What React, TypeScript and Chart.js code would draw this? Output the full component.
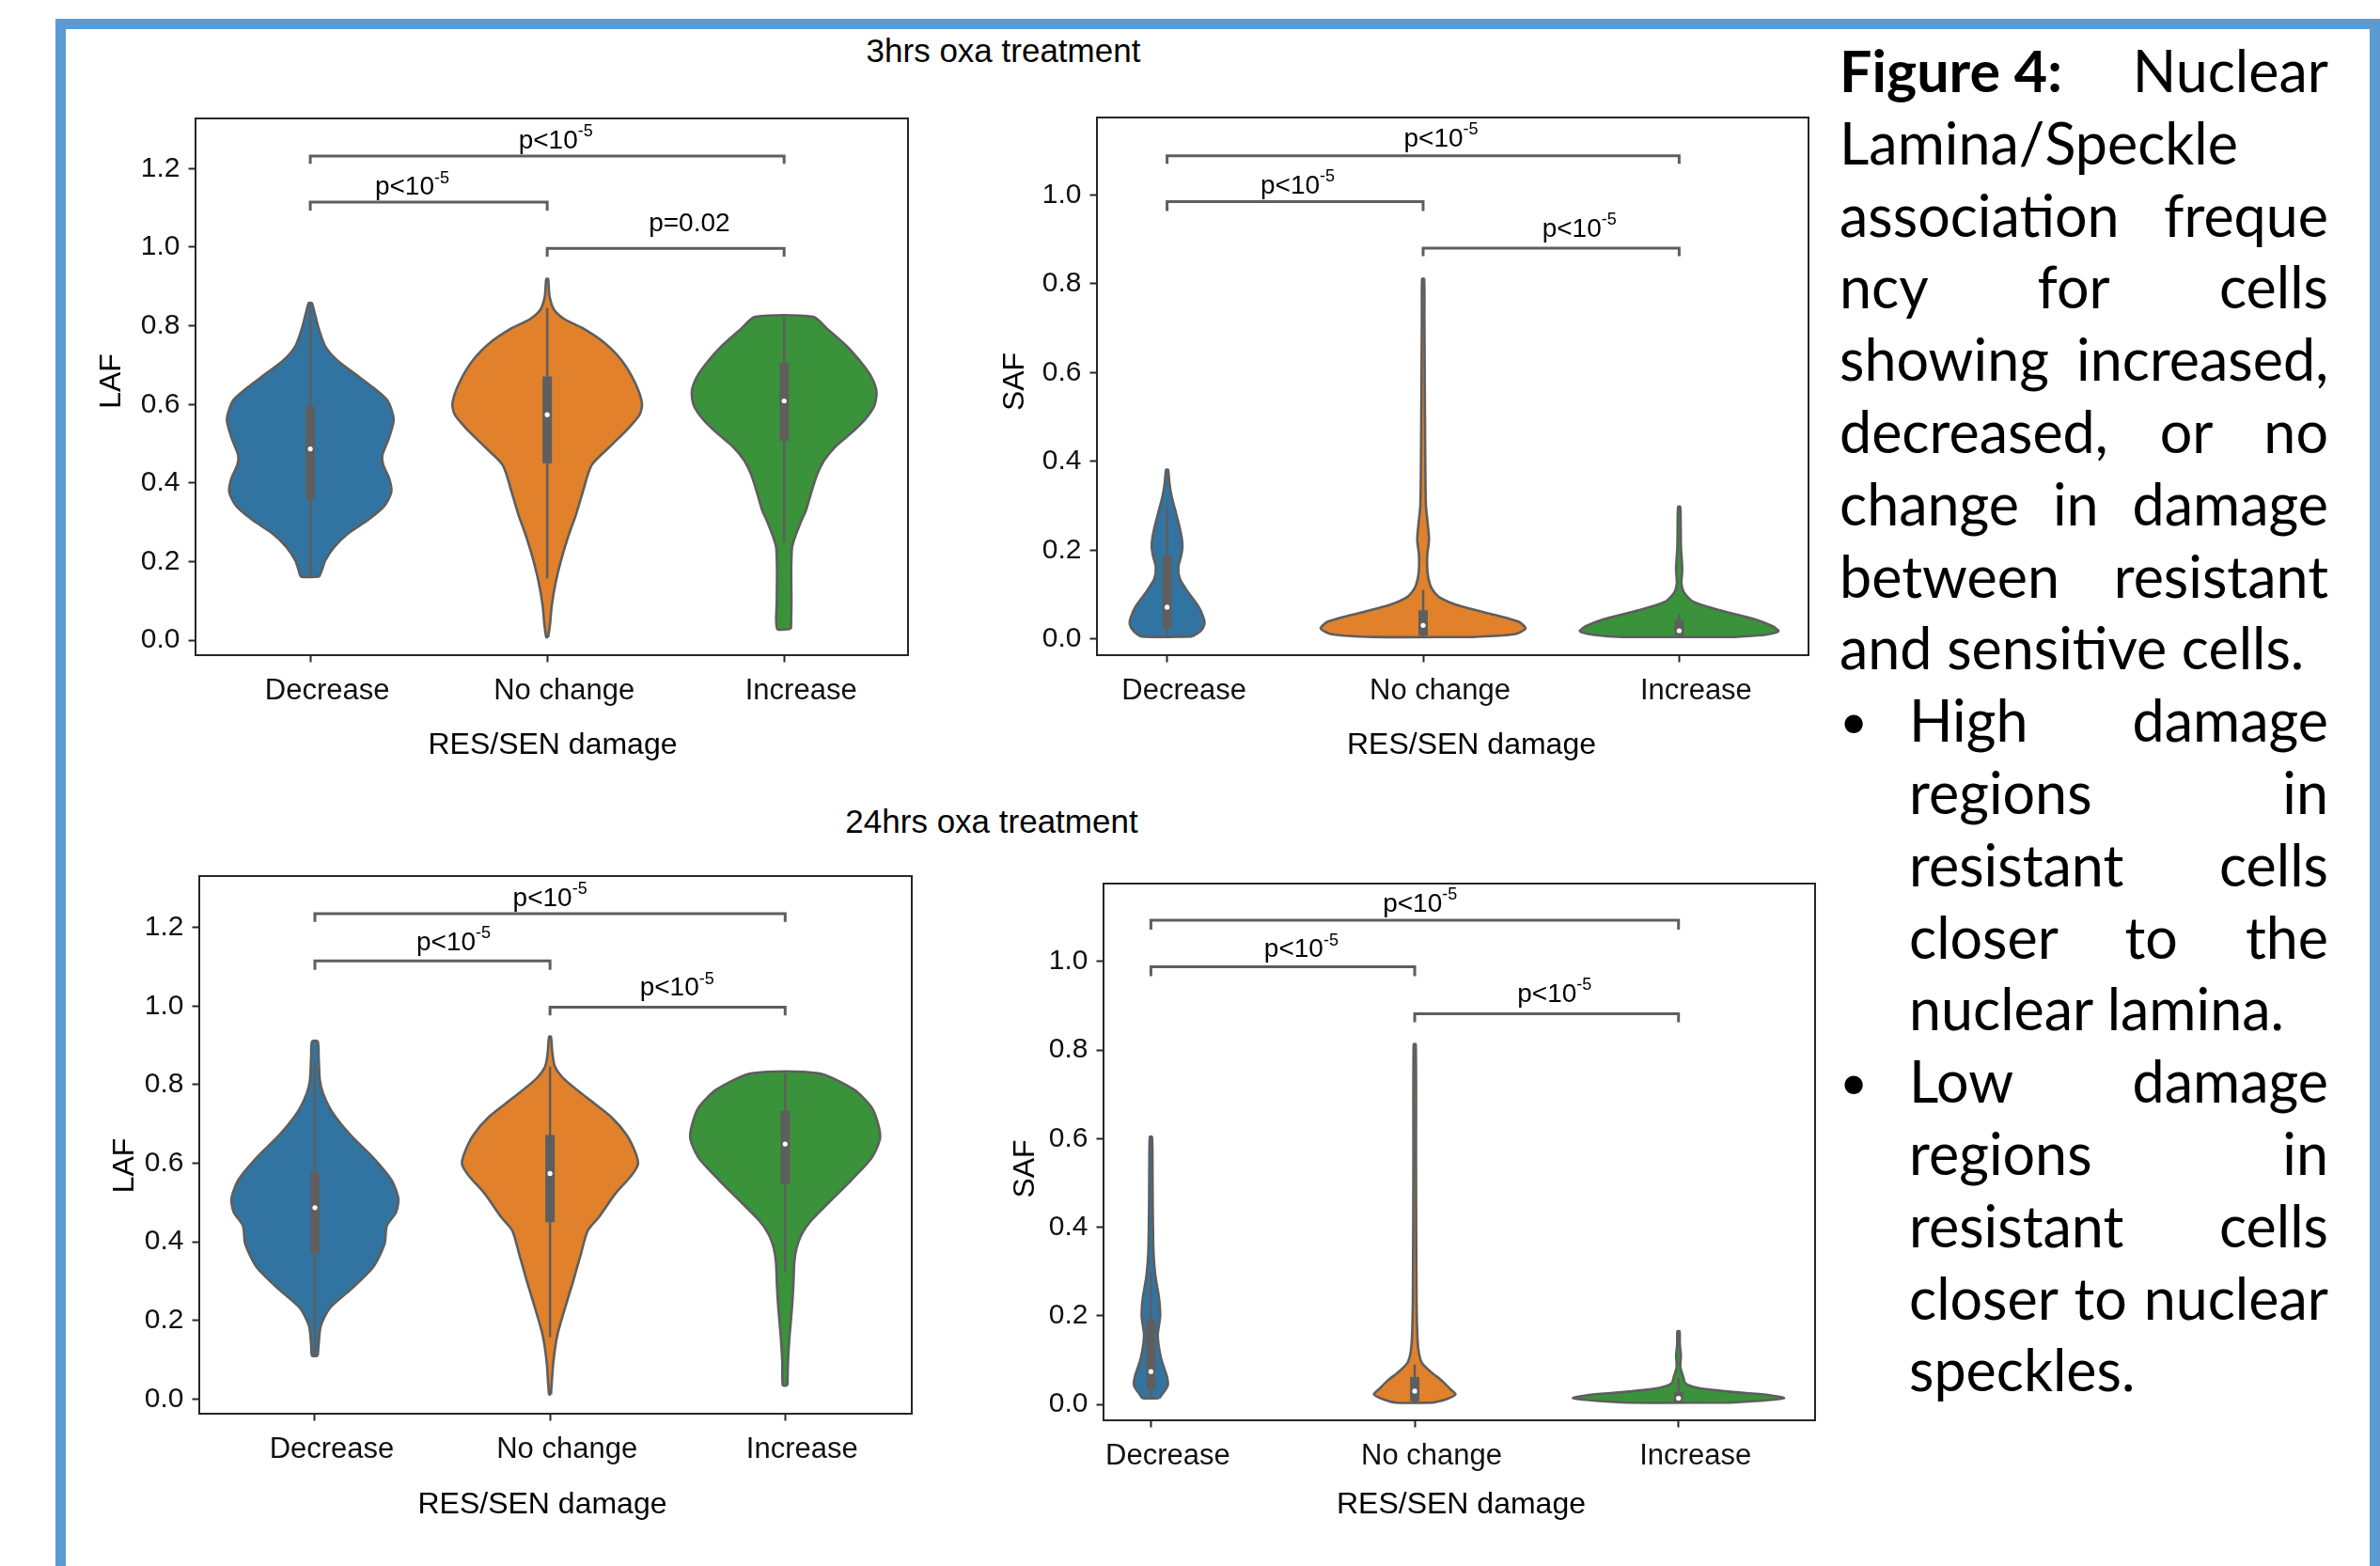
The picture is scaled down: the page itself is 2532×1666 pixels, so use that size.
import React, { useEffect, useRef } from 'react';
import { Chart, registerables } from 'chart.js';

Chart.register(...registerables);
Chart.defaults.font.family = '"Liberation Sans", Arial, Helvetica, sans-serif';

// ---------------- data ----------------
const categories = ['Decrease', 'No change', 'Increase'];
const lafTicks = [0, 0.2, 0.4, 0.6, 0.8, 1.0, 1.2];
const safTicks = [0, 0.2, 0.4, 0.6, 0.8, 1.0];
const violinColors = ['#3274a1', '#e1812c', '#3a923a'];

// violin profiles: [value, half-width (category units)]
// 3hrs LAF
const laf3hDecrease = [[0.162,0.038],[0.18,0.05],[0.203,0.063],[0.238,0.102],[0.272,0.16],[0.307,0.246],[0.342,0.313],[0.377,0.342],[0.412,0.333],[0.446,0.308],[0.47,0.304],[0.516,0.333],[0.562,0.352],[0.609,0.327],[0.643,0.265],[0.678,0.188],[0.713,0.112],[0.748,0.063],[0.794,0.035],[0.841,0.015],[0.858,0.006]];
const laf3hNoChange = [[0.008,0.004],[0.041,0.012],[0.087,0.019],[0.145,0.035],[0.203,0.058],[0.261,0.087],[0.319,0.121],[0.377,0.15],[0.446,0.188],[0.493,0.265],[0.539,0.342],[0.574,0.39],[0.603,0.4],[0.655,0.371],[0.713,0.313],[0.759,0.237],[0.794,0.15],[0.817,0.073],[0.841,0.029],[0.875,0.01],[0.919,0.004]];
const laf3hIncrease = [[0.029,0.029],[0.099,0.031],[0.168,0.03],[0.21,0.031],[0.238,0.034],[0.261,0.045],[0.285,0.06],[0.307,0.075],[0.33,0.092],[0.377,0.115],[0.423,0.14],[0.458,0.169],[0.493,0.217],[0.528,0.285],[0.562,0.342],[0.597,0.381],[0.632,0.39],[0.667,0.371],[0.701,0.333],[0.748,0.265],[0.794,0.179],[0.823,0.123]];
// [whisker low, q1, median, q3, whisker high]
const laf3hBoxes = [[0.162,0.359,0.487,0.595,0.85],[0.157,0.45,0.574,0.671,0.846],[0.249,0.507,0.609,0.706,0.823]];
// [from, to, bar level, tick end]
const laf3hBrackets = [[0,2,1.232,1.212],[0,1,1.115,1.093],[1,2,0.997,0.976]];
// [text, superscript, x centre, baseline]
const laf3hPLabels = [['p<10','-5',1.036,1.252],['p<10','-5',0.43,1.133],['p=0.02','',1.6,1.04]];

// 3hrs SAF
const saf3hDecrease = [[0.006,0.098],[0.018,0.13],[0.034,0.146],[0.049,0.142],[0.075,0.121],[0.106,0.082],[0.136,0.05],[0.162,0.044],[0.188,0.055],[0.208,0.06],[0.229,0.057],[0.259,0.046],[0.29,0.032],[0.321,0.018],[0.352,0.009],[0.381,0.004]];
const saf3hNoChange = [[0.005,0.196],[0.011,0.356],[0.024,0.4],[0.039,0.374],[0.054,0.285],[0.075,0.142],[0.095,0.062],[0.116,0.032],[0.147,0.018],[0.188,0.016],[0.224,0.023],[0.259,0.018],[0.3,0.011],[0.362,0.009],[0.516,0.007],[0.721,0.005],[0.811,0.004]];
const saf3hIncrease = [[0.005,0.22],[0.01,0.338],[0.018,0.388],[0.029,0.365],[0.044,0.3],[0.065,0.16],[0.085,0.053],[0.106,0.018],[0.126,0.009],[0.157,0.012],[0.208,0.007],[0.259,0.006],[0.298,0.004]];
const saf3hBoxes = [[0.006,0.026,0.072,0.188,0.3],[0.005,0.008,0.031,0.065,0.111],[0.005,0.008,0.019,0.042,0.056]];
const saf3hBrackets = [[0,2,1.088,1.07],[0,1,0.985,0.964],[1,2,0.88,0.862]];
const saf3hPLabels = [['p<10','-5',1.07,1.109],['p<10','-5',0.51,1.003],['p<10','-5',1.61,0.906]];

// 24hrs LAF
const laf24hDecrease = [[0.11,0.012],[0.139,0.016],[0.186,0.025],[0.232,0.064],[0.278,0.151],[0.336,0.248],[0.394,0.296],[0.441,0.306],[0.475,0.345],[0.51,0.355],[0.557,0.326],[0.614,0.248],[0.672,0.151],[0.73,0.074],[0.777,0.035],[0.812,0.021],[0.87,0.016],[0.91,0.012]];
const laf24hNoChange = [[0.012,0.004],[0.093,0.014],[0.162,0.031],[0.232,0.064],[0.301,0.099],[0.371,0.132],[0.429,0.161],[0.464,0.209],[0.522,0.277],[0.568,0.345],[0.597,0.374],[0.626,0.364],[0.672,0.326],[0.719,0.258],[0.765,0.161],[0.812,0.064],[0.846,0.021],[0.881,0.01],[0.922,0.004]];
const laf24hIncrease = [[0.035,0.01],[0.093,0.012],[0.162,0.019],[0.232,0.029],[0.29,0.035],[0.348,0.039],[0.383,0.048],[0.417,0.068],[0.452,0.107],[0.499,0.184],[0.557,0.281],[0.614,0.368],[0.661,0.403],[0.696,0.397],[0.742,0.368],[0.788,0.291],[0.829,0.141]];
const laf24hBoxes = [[0.11,0.371,0.487,0.576,0.858],[0.157,0.45,0.574,0.672,0.846],[0.325,0.547,0.649,0.733,0.829]];
const laf24hBrackets = [[0,2,1.235,1.214],[0,1,1.115,1.092],[1,2,0.997,0.976]];
const laf24hPLabels = [['p<10','-5',1.0,1.2545],['p<10','-5',0.59,1.142],['p<10','-5',1.54,1.026]];

// 24hrs SAF
const saf24hDecrease = [[0.014,0.031],[0.023,0.043],[0.043,0.064],[0.064,0.06],[0.105,0.038],[0.156,0.026],[0.198,0.035],[0.239,0.031],[0.29,0.017],[0.342,0.01],[0.444,0.007],[0.547,0.006],[0.604,0.004]];
const saf24hNoChange = [[0.004,0.07],[0.012,0.121],[0.023,0.155],[0.033,0.138],[0.053,0.104],[0.074,0.06],[0.095,0.026],[0.136,0.012],[0.239,0.007],[0.547,0.005],[0.813,0.004]];
const saf24hIncrease = [[0.004,0.19],[0.008,0.31],[0.014,0.4],[0.021,0.345],[0.028,0.207],[0.038,0.069],[0.048,0.026],[0.064,0.017],[0.084,0.007],[0.11,0.009],[0.136,0.005],[0.165,0.004]];
const saf24hBoxes = [[0.014,0.035,0.074,0.192,0.3],[0.004,0.007,0.03,0.062,0.09],[0.004,0.004,0.014,0.028,0.06]];
const saf24hBrackets = [[0,2,1.093,1.072],[0,1,0.988,0.967],[1,2,0.882,0.863]];
const saf24hPLabels = [['p<10','-5',1.02,1.113],['p<10','-5',0.57,1.01],['p<10','-5',1.53,0.909]];

const titles = ['3hrs oxa treatment', '24hrs oxa treatment'];
const xTitle = 'RES/SEN damage';

// ---------------- layout ----------------
const EDGE = '#5e5e5e';
const SPINE = '#262626';
const FONT = '"Liberation Sans", Arial, Helvetica, sans-serif';
const YAXIS_W = 140;
const XAXIS_H = 125;
const PAD_TOP = 40;
const PAD_RIGHT = 20;

const panels = [
  { key: 'laf3', area: { l: 208, t: 126, r: 966, b: 697 }, xr: [-0.4844, 2.5229], yr: [-0.0378, 1.3276], yTicks: lafTicks, yTitle: 'LAF',
    violins: [laf3hDecrease, laf3hNoChange, laf3hIncrease], boxes: laf3hBoxes, brackets: laf3hBrackets, pLabels: laf3hPLabels,
    yGap: 80.5, yShift: -6, xShift: 1, xDrop: 105 },
  { key: 'saf3', area: { l: 1167, t: 125, r: 1924, b: 697 }, xr: [-0.2739, 2.5051], yr: [-0.036, 1.1743], yTicks: safTicks, yTitle: 'SAF',
    violins: [saf3hDecrease, saf3hNoChange, saf3hIncrease], boxes: saf3hBoxes, brackets: saf3hBrackets, pLabels: saf3hPLabels,
    yGap: 78, yShift: -5, xShift: 20, xDrop: 105 },
  { key: 'laf24', area: { l: 212, t: 932, r: 970, b: 1504 }, xr: [-0.4917, 2.5385], yr: [-0.0373, 1.3308], yTicks: lafTicks, yTitle: 'LAF',
    violins: [laf24hDecrease, laf24hNoChange, laf24hIncrease], boxes: laf24hBoxes, brackets: laf24hBrackets, pLabels: laf24hPLabels,
    yGap: 70, yShift: 22, xShift: -14, xDrop: 106 },
  { key: 'saf24', area: { l: 1174, t: 940, r: 1931, b: 1511 }, xr: [-0.1796, 2.5177], yr: [-0.0359, 1.1759], yTicks: safTicks, yTitle: 'SAF',
    violins: [saf24hDecrease, saf24hNoChange, saf24hIncrease], boxes: saf24hBoxes, brackets: saf24hBrackets, pLabels: saf24hPLabels,
    yGap: 74, yShift: 18, xShift: 2, xDrop: 99 },
];

function buildDatasets(p: any) {
  const ds: any[] = [];
  p.violins.forEach((prof: number[][], i: number) => {
    const right = prof.map(([v, w]) => ({ x: i + w, y: v }));
    const left = prof.slice().reverse().map(([v, w]) => ({ x: i - w, y: v }));
    ds.push({
      data: [...right, ...left, right[0]],
      borderColor: EDGE, borderWidth: 2.6, backgroundColor: violinColors[i],
      fill: 'shape', tension: 0.25, pointRadius: 0, order: 5,
    });
  });
  p.boxes.forEach(([lo, q1, med, q3, hi]: number[], i: number) => {
    ds.push({ data: [{ x: i, y: lo }, { x: i, y: hi }], borderColor: EDGE, borderWidth: 2.5, pointRadius: 0, fill: false, order: 4 });
    ds.push({ data: [{ x: i, y: q1 }, { x: i, y: q3 }], borderColor: EDGE, borderWidth: 10, borderCapStyle: 'butt', pointRadius: 0, fill: false, order: 3 });
    ds.push({ data: [{ x: i, y: med }], showLine: false, pointRadius: 2.6, pointBackgroundColor: '#ffffff', pointBorderWidth: 0, order: 2 });
  });
  p.brackets.forEach(([a, b, yl, yt]: number[]) => {
    ds.push({
      data: [{ x: a, y: yt }, { x: a, y: yl }, { x: b, y: yl }, { x: b, y: yt }],
      borderColor: EDGE, borderWidth: 3, pointRadius: 0, fill: false, tension: 0, order: 1,
      borderJoinStyle: 'miter',
    });
  });
  return ds;
}

function makePlugin(p: any) {
  return {
    id: 'panelDecor_' + p.key,
    afterDraw(chart: any) {
      const { ctx, chartArea: a, scales } = chart;
      const xs = scales.x, ys = scales.y;
      ctx.save();
      // p-value labels
      ctx.fillStyle = '#000';
      ctx.textAlign = 'left';
      ctx.textBaseline = 'alphabetic';
      p.pLabels.forEach(([main, sup, cx, cy]: any[]) => {
        ctx.font = `28px ${FONT}`;
        const w1 = ctx.measureText(main).width;
        ctx.font = `18px ${FONT}`;
        const w2 = sup ? ctx.measureText(sup).width : 0;
        const px = xs.getPixelForValue(cx) - (w1 + w2) / 2;
        const py = ys.getPixelForValue(cy);
        ctx.font = `28px ${FONT}`;
        ctx.fillText(main, px, py);
        if (sup) {
          ctx.font = `18px ${FONT}`;
          ctx.fillText(sup, px + w1, py - 12.5);
        }
      });
      // frame
      ctx.strokeStyle = SPINE;
      ctx.lineWidth = 2;
      ctx.strokeRect(a.left, a.top, a.right - a.left, a.bottom - a.top);
      // axis titles
      ctx.fillStyle = '#000';
      ctx.font = `32px ${FONT}`;
      ctx.textAlign = 'center';
      ctx.textBaseline = 'alphabetic';
      ctx.fillText(xTitle, (a.left + a.right) / 2 + p.xShift, a.bottom + p.xDrop);
      ctx.translate(a.left - p.yGap, (a.top + a.bottom) / 2 + p.yShift);
      ctx.rotate(-Math.PI / 2);
      ctx.fillText(p.yTitle, 0, 0);
      ctx.restore();
    },
  };
}

function ViolinPanel({ p }: { p: any }) {
  const ref = useRef<HTMLCanvasElement | null>(null);
  const W = p.area.r - p.area.l + YAXIS_W + PAD_RIGHT;
  const H = p.area.b - p.area.t + PAD_TOP + XAXIS_H;
  useEffect(() => {
    if (!ref.current) return;
    const chart = new Chart(ref.current, {
      type: 'line',
      data: { datasets: buildDatasets(p) },
      options: {
        animation: false,
        responsive: false,
        events: [],
        layout: { padding: { top: PAD_TOP, right: PAD_RIGHT, left: 0, bottom: 0 } },
        plugins: { legend: { display: false }, tooltip: { enabled: false } },
        scales: {
          x: {
            type: 'linear', min: p.xr[0], max: p.xr[1], bounds: 'data',
            afterBuildTicks: (s: any) => { s.ticks = categories.map((_, i) => ({ value: i })); },
            afterFit: (s: any) => { s.height = XAXIS_H; },
            ticks: { autoSkip: false, maxRotation: 0, padding: 12, labelOffset: 18, color: '#111',
              font: { size: 31, lineHeight: 1.2 }, callback: (v: any) => categories[v] },
            grid: { display: true, drawOnChartArea: false, drawTicks: true, tickLength: 7.5, tickWidth: 2, tickColor: SPINE },
            border: { display: false },
          },
          y: {
            type: 'linear', min: p.yr[0], max: p.yr[1], bounds: 'data',
            afterBuildTicks: (s: any) => { s.ticks = p.yTicks.map((v: number) => ({ value: v })); },
            afterFit: (s: any) => { s.width = YAXIS_W; },
            ticks: { autoSkip: false, padding: 9, color: '#111', font: { size: 30 },
              callback: (v: any) => Number(v).toFixed(1) },
            grid: { display: true, drawOnChartArea: false, drawTicks: true, tickLength: 7.5, tickWidth: 2, tickColor: SPINE },
            border: { display: false },
          },
        },
      } as any,
      plugins: [makePlugin(p)],
    } as any);
    return () => chart.destroy();
  }, []);
  return (
    <canvas
      ref={ref}
      width={W}
      height={H}
      style={{ position: 'absolute', left: p.area.l - YAXIS_W, top: p.area.t - PAD_TOP, width: W, height: H }}
    />
  );
}

// ---------------- caption ----------------
const CAP_TOP = 37;
const CAP_LH = 76.8;
const CAP_LEFT = 1957;
const CAP_INDENT = 2031;
const CAP_RIGHT = 2477;

const captionLines = [
  { text: 'Nuclear', bold: 'Figure 4:', justify: true, indent: false, bullet: false },
  { text: 'Lamina/Speckle', justify: false, indent: false, bullet: false },
  { text: 'association freque', justify: true, indent: false, bullet: false },
  { text: 'ncy for cells', justify: true, indent: false, bullet: false },
  { text: 'showing increased,', justify: true, indent: false, bullet: false },
  { text: 'decreased, or no', justify: true, indent: false, bullet: false },
  { text: 'change in damage', justify: true, indent: false, bullet: false },
  { text: 'between resistant', justify: true, indent: false, bullet: false },
  { text: 'and sensitive cells.', justify: false, indent: false, bullet: false },
  { text: 'High damage', justify: true, indent: true, bullet: true },
  { text: 'regions in', justify: true, indent: true, bullet: false },
  { text: 'resistant cells', justify: true, indent: true, bullet: false },
  { text: 'closer to the', justify: true, indent: true, bullet: false },
  { text: 'nuclear lamina.', justify: false, indent: true, bullet: false },
  { text: 'Low damage', justify: true, indent: true, bullet: true },
  { text: 'regions in', justify: true, indent: true, bullet: false },
  { text: 'resistant cells', justify: true, indent: true, bullet: false },
  { text: 'closer to nuclear', justify: true, indent: true, bullet: false },
  { text: 'speckles.', justify: false, indent: true, bullet: false },
];

const capFont: React.CSSProperties = {
  fontFamily: 'Lato, "Open Sans", sans-serif',
  fontSize: 61,
  lineHeight: `${CAP_LH}px`,
  color: '#000',
};

function Caption() {
  return (
    <>
      {captionLines.map((ln: any, i) => {
        const top = CAP_TOP + i * CAP_LH;
        const left = ln.indent ? CAP_INDENT : CAP_LEFT;
        return (
          <React.Fragment key={i}>
            {ln.bullet && (
              <div style={{ ...capFont, fontSize: 52, position: 'absolute', left: CAP_LEFT, top, height: CAP_LH }}>•</div>
            )}
            <div
              style={{
                ...capFont,
                position: 'absolute', left, top, width: CAP_RIGHT - left, height: CAP_LH,
                textAlign: ln.justify ? 'justify' : 'left',
                textAlignLast: ln.justify ? 'justify' : 'left',
              } as any}
            >
              {ln.bold && <span style={{ fontWeight: 700, display: 'inline-block' }}>{ln.bold}</span>}
              {ln.bold ? ' ' + ln.text : ln.text}
            </div>
          </React.Fragment>
        );
      })}
    </>
  );
}

const titleStyle = (cx: number, top: number): React.CSSProperties => ({
  position: 'absolute', left: cx - 400, width: 800, top, textAlign: 'center',
  fontFamily: FONT, fontSize: 35, lineHeight: '42px', color: '#000', whiteSpace: 'nowrap',
});

export default function App() {
  return (
    <div style={{ position: 'absolute', left: 0, top: 0, width: 2532, height: 1666, background: '#fff', overflow: 'hidden' }}>
      <div style={{ position: 'absolute', left: 59, top: 20, width: 2473, height: 1700, border: '11px solid #5b9bd5', boxSizing: 'border-box' }} />
      <div style={titleStyle(1067.5, 33.4)}>{titles[0]}</div>
      <div style={titleStyle(1055, 853.4)}>{titles[1]}</div>
      {panels.map((p) => <ViolinPanel key={p.key} p={p} />)}
      <Caption />
    </div>
  );
}
